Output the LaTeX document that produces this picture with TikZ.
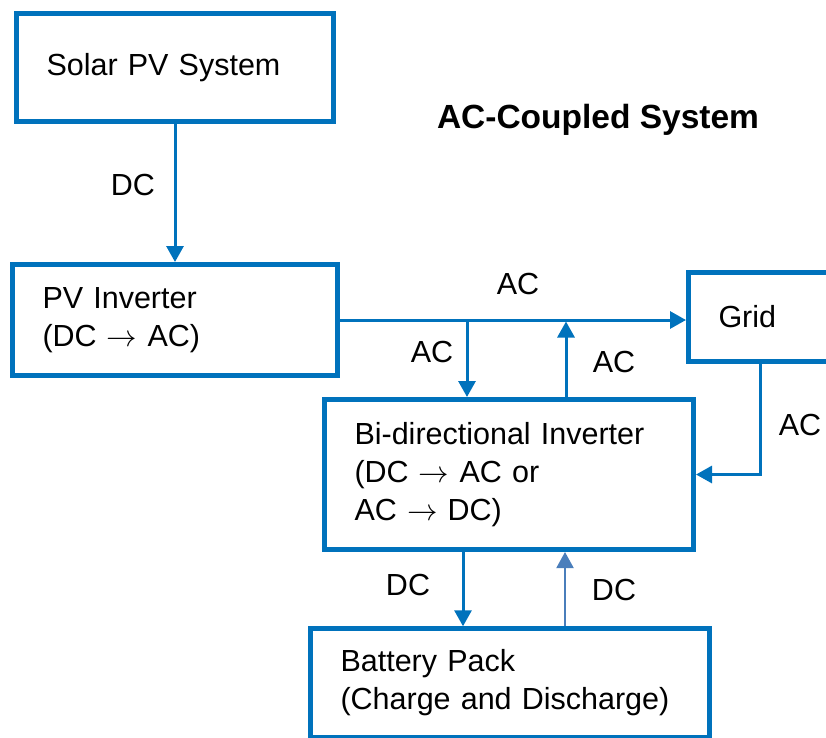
\RequirePackage{fix-cm}
\documentclass[tikz,border=0pt]{standalone}
\usepackage{fontspec}
\setmainfont{Liberation Sans}
\usetikzlibrary{arrows.meta}
\definecolor{linkblue}{RGB}{0,114,188}
\definecolor{softblue}{RGB}{74,126,187}

\begin{document}
\begin{tikzpicture}[x=1pt, y=-1pt, font=\fontsize{30.5}{38}\selectfont,
  blockbox/.style={draw=linkblue, line width=5pt, rectangle, align=left,
    inner xsep=30pt, inner ysep=0pt},
  flow/.style={draw=linkblue, line width=3pt, -{Triangle[length=16pt,width=17pt]}}]
  \useasboundingbox (0,0) rectangle (826,737);

  % boxes
  \node[blockbox, minimum height=108pt, text width=257pt] (solar) at (175,67.5) {Solar PV System};
  \node[blockbox, minimum height=111pt, text width=265pt] (pvinv) at (175,320) {PV Inverter\\(DC $\rightarrow$ AC)};
  \node[blockbox, minimum height=89pt, text width=121.5pt] (grid) at (779.25,317) {Grid};
  \node[blockbox, minimum height=150pt, text width=309pt] (bidir) at (509,474.5) {Bi-directional Inverter\\(DC $\rightarrow$ AC or\\AC $\rightarrow$ DC)};
  \node[blockbox, minimum height=108.5pt, text width=339pt] (battery) at (510,683) {Battery Pack\\(Charge and Discharge)};

  \node[font=\fontsize{33.5}{40}\selectfont\bfseries] (title) at (598,120) {AC-Coupled System};

  % connectors
  \coordinate (acdown) at (467,320);
  \coordinate (acup) at (566,320);
  \coordinate (griddrop) at (760,0);
  \coordinate (dcdown) at (463,0);
  \coordinate (dcup) at (565,0);

  \draw[flow] (solar.south) -- (pvinv.north);
  \draw[flow] (pvinv.east) -- (pvinv.east -| grid.west);
  \draw[flow] (acdown) -- (acdown |- bidir.north);
  \draw[flow, shorten >=1.5pt] (acup |- bidir.north) -- (acup);
  \draw[flow] (grid.south -| griddrop) |- (bidir.east);
  \draw[flow] (bidir.south -| dcdown) -- (battery.north -| dcdown);
  \draw[flow, draw=softblue, line width=2pt] (battery.north -| dcup) -- (bidir.south -| dcup);

  % labels
  \node (dctop) at (133,185) {DC};
  \node (acmain) at (518,284) {AC};
  \node (acleft) at (432,352) {AC};
  \node (acright) at (614,362) {AC};
  \node (acgrid) at (800,425) {AC};
  \node (dcleft) at (408,585) {DC};
  \node (dcright) at (614,590) {DC};
\end{tikzpicture}
\end{document}
